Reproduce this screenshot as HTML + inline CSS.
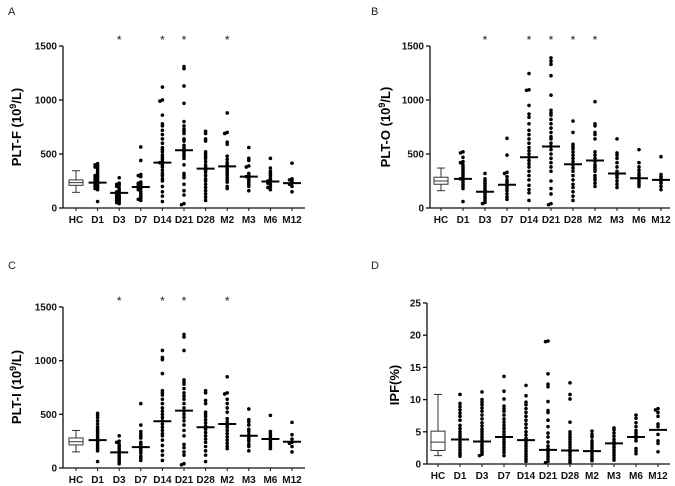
<!DOCTYPE html>
<html><head><meta charset="utf-8"><style>
html,body{margin:0;padding:0;background:#fff;width:675px;height:486px;overflow:hidden}
svg{display:block;font-family:"Liberation Sans",Arial,sans-serif}
</style></head><body>
<svg id="fig" width="675" height="486" viewBox="0 0 675 486"></svg>
<script>
const categories=["HC","D1","D3","D7","D14","D21","D28","M2","M3","M6","M12"];
// Panel A PLT-F
const aBox=[145,210,235,260,345];
const aMedians=[235,140,195,420,535,365,385,290,245,230];
const aValues=[
[410,400,390,380,370,350,330,310,300,290,280,270,260,250,240,230,220,210,200,190,180,170,60],
[280,230,220,210,200,180,160,150,140,130,120,110,100,90,80,70,60,50,40],
[565,440,310,300,290,240,230,220,210,200,190,180,170,150,130,110,90,80,70],
[1120,1000,990,860,780,760,720,680,640,600,560,540,520,490,470,450,430,420,400,380,350,320,300,270,250,200,150,110,60],
[1310,1290,1130,970,800,760,730,710,690,640,620,580,560,540,520,500,480,460,400,320,300,280,220,160,120,40,30],
[710,690,640,620,520,500,480,460,430,400,380,350,330,300,270,250,220,190,160,130,100,70],
[880,700,690,610,590,480,450,420,400,380,360,340,320,300,280,260,240,200,180],
[560,460,440,390,380,320,300,290,280,260,240,220,200,160],
[460,370,340,320,300,280,260,250,240,230,220,200,190,170],
[415,270,260,250,230,220,200,150]];
const aStars=["D3","D14","D21","M2"];
// Panel B PLT-O
const bBox=[160,220,250,285,370];
const bMedians=[270,150,215,470,570,405,440,320,275,260];
const bValues=[
[520,510,470,430,420,400,380,360,340,320,300,280,270,260,240,220,200,180,60],
[320,270,250,230,210,190,170,150,130,110,90,70,50,40],
[645,490,330,320,290,260,240,220,200,180,160,130,100,80],
[1245,1095,1090,950,870,840,780,720,680,640,600,560,530,500,470,440,410,380,340,300,260,210,170,140,70],
[1390,1360,1330,1225,1045,905,880,860,820,780,740,700,660,640,600,570,540,500,460,420,380,340,250,180,130,40,30],
[805,700,590,570,550,520,490,460,430,400,370,340,300,260,220,190,150,110,70],
[985,780,760,700,680,640,520,490,460,430,400,380,360,340,300,280,260,230,200],
[640,510,490,460,420,380,340,320,300,280,250,220,190],
[540,420,380,350,320,300,280,260,240,220,200],
[475,310,290,270,250,230,200,170]];
const bStars=["D3","D14","D21","D28","M2"];
// Panel C PLT-I
const cBox=[150,215,245,280,350];
const cMedians=[260,145,195,435,535,380,410,300,270,245];
const cValues=[
[510,490,470,440,410,380,360,340,320,300,280,260,240,220,200,180,160,60],
[300,250,240,220,200,180,160,140,120,100,80,60,40],
[600,400,340,320,300,280,240,220,200,180,160,140,110,90,70],
[1095,1030,1010,880,720,700,680,640,600,560,530,500,470,440,410,380,350,320,300,260,210,160,120,70],
[1245,1220,1095,820,800,780,740,700,670,640,600,560,530,500,470,440,400,350,300,220,190,150,120,40,30],
[720,700,630,600,520,500,480,450,420,390,360,330,300,270,240,200,160,120,60],
[850,700,690,640,600,560,520,460,430,400,380,350,320,290,260,230,200,180],
[550,450,430,400,360,340,310,290,270,250,220,200,160],
[490,340,320,300,280,260,240,220,200,180],
[425,310,270,240,230,200,150]];
const cStars=["D3","D14","D21","M2"];
// Panel D IPF
const dBox=[1.3,2.1,3.4,5.1,10.8];
const dMedians=[3.8,3.5,4.2,3.7,2.2,2.1,2.0,3.2,4.2,5.3];
const dValues=[
[10.8,9.4,8.9,8.4,7.9,7.4,6.8,6.0,5.5,5.0,4.6,4.2,3.8,3.4,3.0,2.6,2.2,1.8,1.5,1.2],
[11.2,10.0,9.6,9.2,8.7,8.2,7.6,7.0,6.4,5.9,5.4,5.0,4.6,4.2,3.8,3.4,3.0,2.7,2.4,2.1,1.8,1.5,1.3],
[13.6,11.3,10.1,9.0,8.6,8.2,7.6,7.0,6.5,6.0,5.5,5.0,4.6,4.2,3.8,3.4,3.0,2.6,2.2,1.8,1.3],
[12.2,10.6,9.6,9.2,8.6,8.0,7.4,6.8,6.2,5.6,5.0,4.5,4.0,3.6,3.2,2.8,2.4,2.0,1.6,1.2,0.8,0.4],
[19.1,19.0,14.0,12.4,12.0,9.7,8.3,8.0,6.8,5.8,4.8,4.2,3.4,2.8,2.4,2.0,1.6,1.2,0.8,0.4,0.2],
[12.6,10.8,10.1,6.5,5.0,4.6,4.2,3.8,3.4,3.0,2.6,2.2,1.8,1.4,1.0,0.6,0.3],
[5.1,4.6,4.2,3.6,3.2,2.8,2.4,2.0,1.6,1.2,0.8,0.5],
[5.6,5.3,4.8,4.3,3.8,3.4,3.0,2.6,2.2,1.8,1.4,1.0,0.6],
[7.6,7.1,6.4,5.8,5.2,4.8,4.4,4.0,3.6,2.4,2.0,1.6],
[8.6,8.4,8.0,7.4,6.2,5.8,4.6,3.6,3.2,1.9]];
const dStars=[];
const pltTicks=[0,500,1000,1500];
const ipfTicks=[0,5,10,15,20,25];

const NS="http://www.w3.org/2000/svg";
const svg=document.getElementById('fig');
function mk(tag,attrs,parent,text){const e=document.createElementNS(NS,tag);for(const k in attrs)e.setAttribute(k,attrs[k]);if(text!==undefined)e.textContent=text;(parent||svg).appendChild(e);return e;}

function panel(cfg){
  const g=mk('g',{});
  
  
  const y=v=>cfg.y0-(v-cfg.min)/(cfg.max-cfg.min)*(cfg.y0-cfg.y1);
  const x=i=>cfg.xFirst+i*(cfg.xLast-cfg.xFirst)/(categories.length-1);
  const lt=mk('text',{x:cfg.lx,y:cfg.ly,'font-size':11,fill:'#222'},g,cfg.letter);
  
  
  const ya=mk('line',{x1:cfg.ax,x2:cfg.ax,y1:cfg.y1,y2:cfg.y0,stroke:'#111','stroke-width':1.3},g);
  
  
  const xa=mk('line',{x1:cfg.ax,x2:cfg.axEnd,y1:cfg.y0,y2:cfg.y0,stroke:'#111','stroke-width':1.3},g);
  
  
  cfg.ticks.forEach(t=>{
    mk('line',{x1:cfg.ax-4,x2:cfg.ax,y1:y(t),y2:y(t),stroke:'#111','stroke-width':1.3},g);
    const tl=mk('text',{x:cfg.ax-6,y:y(t)+3.5,'font-size':10,'font-weight':'bold','text-anchor':'end',fill:'#111'},g,t);
    
    
  });
  categories.forEach((c,i)=>{
    mk('line',{x1:x(i),x2:x(i),y1:cfg.y0,y2:cfg.y0+3,stroke:'#111','stroke-width':1},g);
    const cl=mk('text',{x:x(i),y:cfg.y0+15,'font-size':10,'font-weight':'bold','text-anchor':'middle',fill:'#111'},g,c);
    
    
  });
  const tt=mk('text',{x:0,y:0,'font-size':13,'font-weight':'bold','text-anchor':'middle',fill:'#000',transform:`translate(${cfg.tx},${cfg.ty}) rotate(-90)`},g);
  
  
  if(cfg.sup){
    mk('tspan',{},tt,cfg.title+' (10');
    mk('tspan',{dy:-5,'font-size':9},tt,'9');
    mk('tspan',{dy:5},tt,'/L)');
  } else tt.textContent=cfg.title;
  const b=cfg.box,bx=x(0),bw=7;
  const bg=mk('g',{},g);
  
  
  mk('line',{x1:bx,x2:bx,y1:y(b[0]),y2:y(b[4]),stroke:'#333','stroke-width':1},bg);
  mk('line',{x1:bx-4,x2:bx+4,y1:y(b[0]),y2:y(b[0]),stroke:'#333','stroke-width':1},bg);
  mk('line',{x1:bx-4,x2:bx+4,y1:y(b[4]),y2:y(b[4]),stroke:'#333','stroke-width':1},bg);
  mk('rect',{x:bx-bw,y:y(b[3]),width:2*bw,height:y(b[1])-y(b[3]),fill:'#fff',stroke:'#333','stroke-width':1},bg);
  mk('line',{x1:bx-bw,x2:bx+bw,y1:y(b[2]),y2:y(b[2]),stroke:'#333','stroke-width':1},bg);
  cfg.values.forEach((arr,k)=>{
    const i=k+1,cx=x(i);
    const cg=mk('g',{},g);
    
    
    const placed=[];
    arr.slice().sort((p,q)=>q-p).forEach(v=>{
      const py=y(v);
      const offs=[0,-2.5,2.5];
      let off=0;
      for(const o of offs){if(!placed.some(p=>Math.abs(p[1]-py)<1.6&&Math.abs(p[0]-o)<2.4)){off=o;break;}}
      placed.push([off,py]);
      const d=mk('circle',{cx:cx+off,cy:py,r:1.8,fill:'#000'},cg);
      
      
    });
    const m=mk('line',{x1:cx-9,x2:cx+9,y1:y(cfg.medians[k]),y2:y(cfg.medians[k]),stroke:'#000','stroke-width':2},cg);
    
    
  });
  cfg.stars.forEach(s=>{
    const i=categories.indexOf(s);
    const st=mk('text',{x:x(i),y:cfg.sy,'font-size':12,'text-anchor':'middle',fill:'#222'},g,'*');
    
    
  });
}
panel({letter:'A',lx:8,ly:15,ax:63,axEnd:305,y0:208,y1:46,min:0,max:1500,xFirst:76,xLast:292,ticks:pltTicks,title:'PLT-F',sup:true,tx:21,ty:127,box:aBox,values:aValues,medians:aMedians,stars:aStars,sy:44});
panel({letter:'B',lx:371,ly:15,ax:430,axEnd:670,y0:208,y1:46,min:0,max:1500,xFirst:441,xLast:661,ticks:pltTicks,title:'PLT-O',sup:true,tx:390,ty:127,box:bBox,values:bValues,medians:bMedians,stars:bStars,sy:44});
panel({letter:'C',lx:8,ly:269,ax:63,axEnd:305,y0:468,y1:307,min:0,max:1500,xFirst:76,xLast:292,ticks:pltTicks,title:'PLT-I',sup:true,tx:21,ty:387,box:cBox,values:cValues,medians:cMedians,stars:cStars,sy:305});
panel({letter:'D',lx:371,ly:269,ax:427,axEnd:670,y0:464,y1:303,min:0,max:25,xFirst:438,xLast:658,ticks:ipfTicks,title:'IPF(%)',sup:false,tx:399,ty:385,box:dBox,values:dValues,medians:dMedians,stars:dStars,sy:300});
</script>
</body></html>
